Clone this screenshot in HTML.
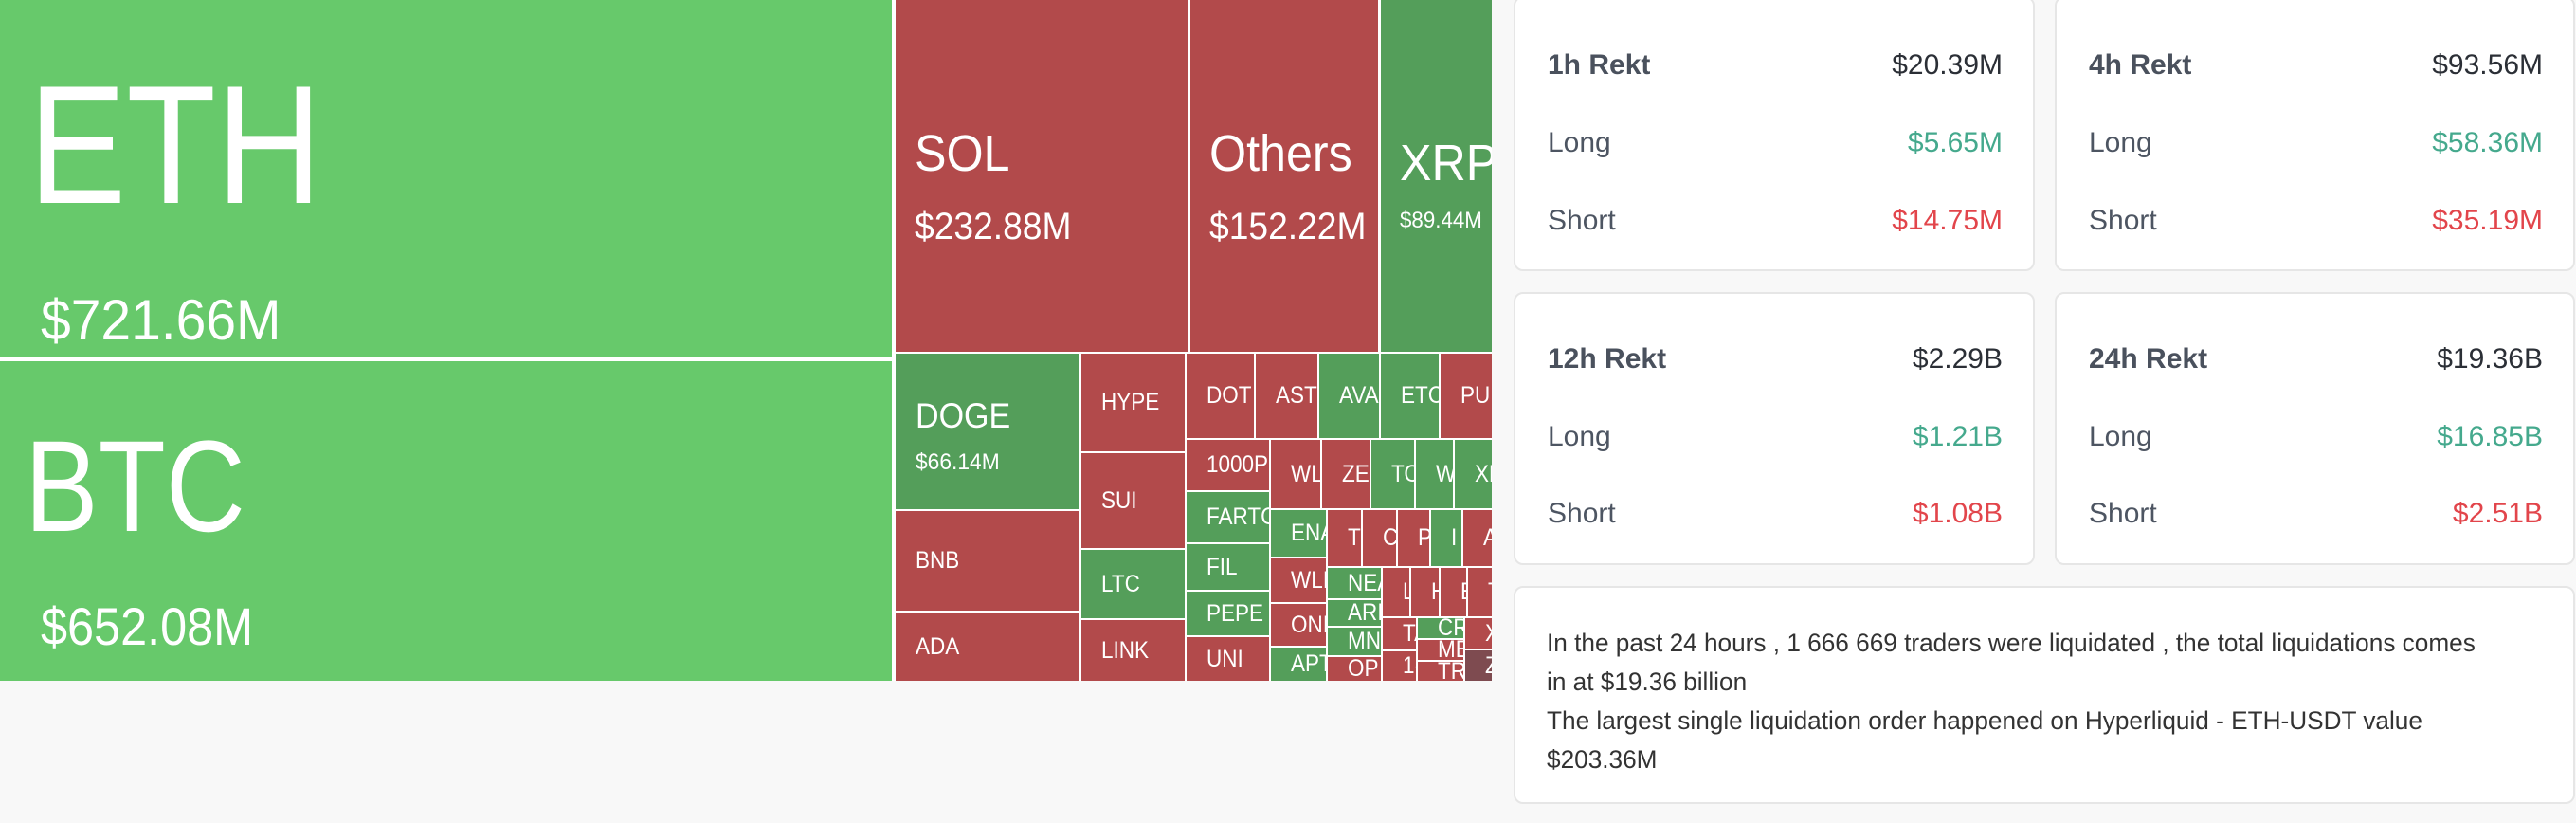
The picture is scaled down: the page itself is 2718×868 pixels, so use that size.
<!DOCTYPE html>
<html><head><meta charset="utf-8">
<style>
*{margin:0;padding:0;box-sizing:border-box}
body{width:2718px;height:868px;background:#f8f8f8;position:relative;overflow:hidden;font-family:"Liberation Sans",sans-serif}
.tm{position:absolute;left:0;top:0;width:1574px;height:718px;background:#fff;overflow:hidden}
.t{position:absolute;overflow:hidden;color:#fff;white-space:nowrap;display:flex;align-items:center;padding-left:21px;font-size:25px}
.t span{display:inline-block;transform:scaleX(.9);transform-origin:left center}
.r{background:#b24a4b}.g{background:#549e5a}.G{background:#67c96b}.d{background:#7e4b50}
.lab{position:absolute;color:#fff;white-space:nowrap;line-height:1;transform-origin:left top}
.card{position:absolute;background:#fff;border:2px solid #e6e6e6;border-radius:10px}
.row{position:absolute;left:34px;right:32px;display:flex;justify-content:space-between;font-size:30px;line-height:1;color:#4d5562}
.row b{font-weight:bold;color:#4a515d}
.v{color:#2b2f36}.gr{color:#45a98d}.rd{color:#e2454b}
.txt{position:absolute;left:33px;top:38px;font-size:27px;line-height:41px;color:#333;white-space:nowrap}
.txt div{transform:scaleX(.97);transform-origin:left}
</style></head><body>
<div class="tm">
<div class="t G" style="left:0;top:0;width:941px;height:377px"></div>
<div class="t G" style="left:0;top:381px;width:941px;height:337px"></div>
<div class="t r" style="left:945px;top:0;width:308px;height:371px"></div>
<div class="t r" style="left:1256px;top:0;width:198px;height:371px"></div>
<div class="t g" style="left:1457px;top:0;width:117px;height:371px"></div>
<div class="t g" style="left:945px;top:373px;width:194px;height:164px"></div>
<div class="t r" style="left:945px;top:539px;width:194px;height:105px"><span>BNB</span></div>
<div class="t r" style="left:945px;top:647px;width:194px;height:71px"><span>ADA</span></div>
<div class="t r" style="left:1141px;top:373px;width:109px;height:103px"><span>HYPE</span></div>
<div class="t r" style="left:1141px;top:478px;width:109px;height:100px"><span>SUI</span></div>
<div class="t g" style="left:1141px;top:580px;width:109px;height:72px"><span>LTC</span></div>
<div class="t r" style="left:1141px;top:654px;width:109px;height:64px"><span>LINK</span></div>
<div class="t r" style="left:1252px;top:373px;width:71px;height:89px"><span>DOT</span></div>
<div class="t r" style="left:1325px;top:373px;width:65px;height:89px"><span>AST</span></div>
<div class="t g" style="left:1392px;top:373px;width:63px;height:89px"><span>AVA</span></div>
<div class="t g" style="left:1457px;top:373px;width:61px;height:89px"><span>ETC</span></div>
<div class="t r" style="left:1520px;top:373px;width:54px;height:89px"><span>PU</span></div>
<div class="t r" style="left:1252px;top:464px;width:87px;height:53px"><span>1000P</span></div>
<div class="t g" style="left:1252px;top:519px;width:87px;height:53px"><span>FARTC</span></div>
<div class="t g" style="left:1252px;top:574px;width:87px;height:48px"><span>FIL</span></div>
<div class="t g" style="left:1252px;top:624px;width:87px;height:46px"><span>PEPE</span></div>
<div class="t r" style="left:1252px;top:672px;width:87px;height:46px"><span>UNI</span></div>
<div class="t r" style="left:1341px;top:464px;width:52px;height:72px"><span>WL</span></div>
<div class="t r" style="left:1395px;top:464px;width:50px;height:72px"><span>ZE</span></div>
<div class="t g" style="left:1447px;top:464px;width:45px;height:72px"><span>TO</span></div>
<div class="t g" style="left:1494px;top:464px;width:39px;height:72px"><span>W</span></div>
<div class="t g" style="left:1535px;top:464px;width:39px;height:72px"><span>XL</span></div>
<div class="t g" style="left:1341px;top:538px;width:58px;height:49px"><span>ENA</span></div>
<div class="t r" style="left:1341px;top:589px;width:58px;height:46px"><span>WLI</span></div>
<div class="t r" style="left:1341px;top:637px;width:58px;height:44px"><span>ONI</span></div>
<div class="t g" style="left:1341px;top:683px;width:58px;height:35px"><span>APT</span></div>
<div class="t r" style="left:1401px;top:538px;width:35px;height:59px"><span>T</span></div>
<div class="t r" style="left:1438px;top:538px;width:35px;height:59px"><span>C</span></div>
<div class="t r" style="left:1475px;top:538px;width:33px;height:59px"><span>P</span></div>
<div class="t g" style="left:1510px;top:538px;width:32px;height:59px"><span>I</span></div>
<div class="t r" style="left:1544px;top:538px;width:30px;height:59px"><span>A</span></div>
<div class="t g" style="left:1401px;top:599px;width:56px;height:32px"><span>NEA</span></div>
<div class="t g" style="left:1401px;top:633px;width:56px;height:27px"><span>ARI</span></div>
<div class="t g" style="left:1401px;top:662px;width:56px;height:29px"><span>MN</span></div>
<div class="t r" style="left:1401px;top:693px;width:56px;height:25px"><span>OP</span></div>
<div class="t r" style="left:1459px;top:599px;width:28px;height:51px"><span>L</span></div>
<div class="t r" style="left:1489px;top:599px;width:29px;height:51px"><span>H</span></div>
<div class="t r" style="left:1520px;top:599px;width:27px;height:51px"><span>E</span></div>
<div class="t r" style="left:1549px;top:599px;width:25px;height:51px"><span>T</span></div>
<div class="t r" style="left:1459px;top:652px;width:35px;height:33px"><span>TA</span></div>
<div class="t r" style="left:1459px;top:687px;width:35px;height:31px"><span>1(</span></div>
<div class="t g" style="left:1496px;top:652px;width:48px;height:21px"><span>CR</span></div>
<div class="t r" style="left:1496px;top:675px;width:48px;height:21px"><span>ME</span></div>
<div class="t r" style="left:1496px;top:698px;width:48px;height:20px"><span>TR</span></div>
<div class="t r" style="left:1546px;top:652px;width:28px;height:32px"><span>X</span></div>
<div class="t d" style="left:1546px;top:686px;width:28px;height:32px"><span>Z</span></div>

<div class="lab" style="left:30px;top:64px;font-size:178px;transform:scaleX(.87)">ETH</div>
<div class="lab" style="left:43px;top:308px;font-size:60px;transform:scaleX(.95)">$721.66M</div>
<div class="lab" style="left:26px;top:445px;font-size:137px;transform:scaleX(.85)">BTC</div>
<div class="lab" style="left:43px;top:633px;font-size:56px;transform:scaleX(.9)">$652.08M</div>
<div class="lab" style="left:965px;top:135px;font-size:54px;transform:scaleX(.93)">SOL</div>
<div class="lab" style="left:965px;top:219px;font-size:40px;transform:scaleX(.93)">$232.88M</div>
<div class="lab" style="left:1276px;top:135px;font-size:54px;transform:scaleX(.93)">Others</div>
<div class="lab" style="left:1276px;top:219px;font-size:40px;transform:scaleX(.93)">$152.22M</div>
<div class="lab" style="left:1477px;top:145px;font-size:54px;transform:scaleX(.93)">XRP</div>
<div class="lab" style="left:1477px;top:221px;font-size:24px;transform:scaleX(.93)">$89.44M</div>
<div class="lab" style="left:966px;top:420px;font-size:37px;transform:scaleX(.92)">DOGE</div>
<div class="lab" style="left:966px;top:476px;font-size:24px;transform:scaleX(.95)">$66.14M</div>
</div>

<div class="card" style="left:1597px;top:-4px;width:550px;height:290px">
 <div class="row" style="top:56px"><b>1h Rekt</b><span class="v">$20.39M</span></div>
 <div class="row" style="top:138px"><span>Long</span><span class="gr">$5.65M</span></div>
 <div class="row" style="top:220px"><span>Short</span><span class="rd">$14.75M</span></div>
</div>
<div class="card" style="left:2168px;top:-4px;width:549px;height:290px">
 <div class="row" style="top:56px"><b>4h Rekt</b><span class="v">$93.56M</span></div>
 <div class="row" style="top:138px"><span>Long</span><span class="gr">$58.36M</span></div>
 <div class="row" style="top:220px"><span>Short</span><span class="rd">$35.19M</span></div>
</div>
<div class="card" style="left:1597px;top:308px;width:550px;height:288px">
 <div class="row" style="top:54px"><b>12h Rekt</b><span class="v">$2.29B</span></div>
 <div class="row" style="top:136px"><span>Long</span><span class="gr">$1.21B</span></div>
 <div class="row" style="top:217px"><span>Short</span><span class="rd">$1.08B</span></div>
</div>
<div class="card" style="left:2168px;top:308px;width:549px;height:288px">
 <div class="row" style="top:54px"><b>24h Rekt</b><span class="v">$19.36B</span></div>
 <div class="row" style="top:136px"><span>Long</span><span class="gr">$16.85B</span></div>
 <div class="row" style="top:217px"><span>Short</span><span class="rd">$2.51B</span></div>
</div>
<div class="card" style="left:1597px;top:618px;width:1120px;height:230px">
 <div class="txt">
  <div>In the past 24 hours , 1 666 669 traders were liquidated , the total liquidations comes</div>
  <div>in at $19.36 billion</div>
  <div>The largest single liquidation order happened on Hyperliquid - ETH-USDT value</div>
  <div>$203.36M</div>
 </div>
</div>
</body></html>
